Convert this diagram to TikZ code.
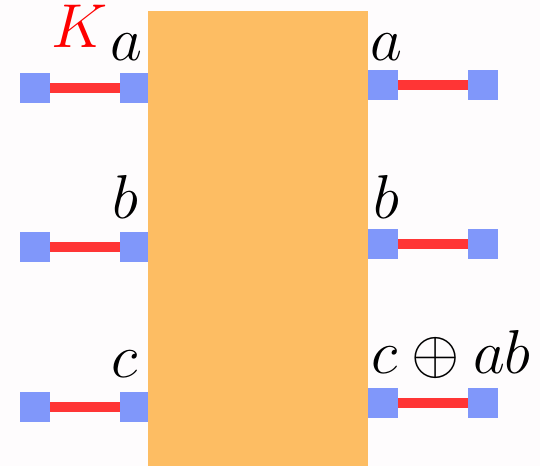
\documentclass[tikz,border=0pt]{standalone}
\usepackage{fix-cm}
\usetikzlibrary{positioning}

\definecolor{bgwhite}{RGB}{254,252,253}
\definecolor{qblue}{RGB}{128,151,250}
\definecolor{wred}{RGB}{255,53,53}
\definecolor{gorange}{RGB}{253,189,99}

\begin{document}
\begin{tikzpicture}[
    x=1pt,
    y=-1pt,
    qubit/.style={
        fill=qblue,
        inner sep=0pt,
        minimum size=30pt,
    },
    wire/.style={draw=wred, line width=10pt},
    gate/.style={
        fill=gorange,
        inner sep=0pt,
        minimum width=220pt,
        minimum height=455pt,
    },
    lbl/.style={
        anchor=base west,
        inner sep=0pt,
        font=\fontsize{62}{68}\selectfont
    }
]

\fill[bgwhite] (0,0) rectangle (540,466);
\useasboundingbox (0,0) rectangle (540,466);

% inputs
\node[qubit] (ina1) at (35,87.5) {};
\node[qubit] (ina2) at (135,87.5) {};
\node[qubit] (inb1) at (35,246.5) {};
\node[qubit] (inb2) at (135,246.5) {};
\node[qubit] (inc1) at (35,406.5) {};
\node[qubit] (inc2) at (135,406.5) {};

% outputs
\node[qubit] (outa1) at (383,84.5) {};
\node[qubit] (outa2) at (483,84.5) {};
\node[qubit] (outb1) at (383,243.5) {};
\node[qubit] (outb2) at (483,243.5) {};
\node[qubit] (outc1) at (383,403) {};
\node[qubit] (outc2) at (483,403) {};

\draw[wire] (ina1) -- (ina2);
\draw[wire] (inb1) -- (inb2);
\draw[wire] (inc1) -- (inc2);
\draw[wire] (outa1) -- (outa2);
\draw[wire] (outb1) -- (outb2);
\draw[wire] (outc1) -- (outc2);

\node[gate] (toffoli) at (258,238.5) {};

% labels
\node[lbl, text=red] (key) at (51,47) {$K$};
\node[lbl] (ina) at (110,60) {$a$};
\node[lbl] (inb) at (112,218) {$b$};
\node[lbl] (inc) at (111,377) {$c$};
\node[lbl] (outa) at (370,60) {$a$};
\node[lbl] (outb) at (373,218) {$b$};
\node[lbl] (outc) at (371,373) {$c\oplus ab$};

\end{tikzpicture}
\end{document}
